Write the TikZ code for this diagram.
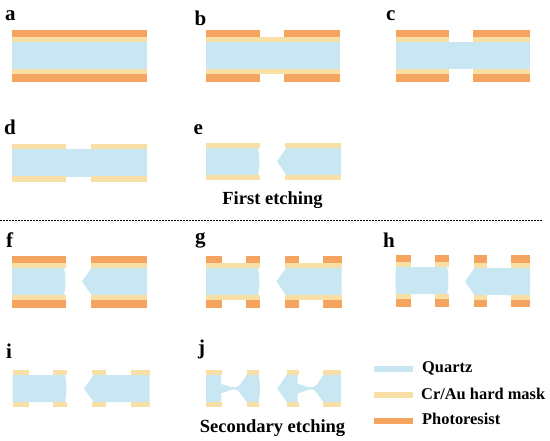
\documentclass[tikz,border=0pt]{standalone}
\usepackage{fontspec}
\setmainfont{Liberation Serif}
\definecolor{quartzc}{HTML}{C9E7F2}
\definecolor{maskc}{HTML}{F8DFA5}
\definecolor{resistc}{HTML}{F5A460}
\tikzset{
  quartz/.style={fill=quartzc},
  hardmask/.style={fill=maskc},
  resist/.style={fill=resistc},
  panel/.style={anchor=base west,inner sep=0pt,font=\bfseries\fontsize{21}{21}\selectfont},
  caption/.style={anchor=base,inner sep=0pt,font=\bfseries\fontsize{18.5}{18}\selectfont},
  legendtext/.style={anchor=base west,inner sep=0pt,font=\bfseries\fontsize{16.4}{18}\selectfont},
}
% #1 left edge, #2 right edge, #3 top of upper mask
\newcommand{\M}[3]{%
  \fill[hardmask] (#1,#3) rectangle (#2,#3+5);
  \fill[hardmask] (#1,#3+32) rectangle (#2,#3+37.3);}
\newcommand{\R}[3]{%
  \fill[resist] (#1,#3-7.5) rectangle (#2,#3);
  \fill[resist] (#1,#3+37) rectangle (#2,#3+44.5);}
% left block with bulged right side: left, right, top of quartz
\newcommand{\QL}[3]{%
  \fill[quartz] (#1,#3) -- (#2-2,#3) .. controls (#2,#3+9) and (#2,#3+18) .. (#2-2,#3+27) -- (#1,#3+27) -- cycle;}
% right block with pointed left side: tip x, right, top of quartz
\newcommand{\QR}[3]{%
  \fill[quartz] (#1,#3+13.5) -- (#1+9.5,#3) -- (#2,#3) -- (#2,#3+27) -- (#1+9.5,#3+27) -- cycle;}
\begin{document}
\begin{tikzpicture}[x=1pt,y=-1pt]
\useasboundingbox (0,0) rectangle (550,440);
% a
\fill[quartz] (12,42) rectangle (147,69);
\M{12}{147}{37}\R{12}{147}{37}
% b
\fill[quartz] (206,42) rectangle (340,69);
\M{206}{340}{37}\R{206}{259.5}{37}\R{283.5}{340}{37}
% c
\fill[quartz] (395.5,42) rectangle (529.5,69);
\M{395.5}{449}{37}\M{473}{529.5}{37}\R{395.5}{449}{37}\R{473}{529.5}{37}
% d
\fill[quartz] (12,149.3) rectangle (147,176.5);
\M{12}{66}{144.3}\M{90.5}{147}{144.3}
% e
\QL{206}{260}{148}\QR{277}{341}{148}
\M{206}{260}{143}\M{285}{341}{143}
% f
\QL{12}{66}{268}\QR{82}{147}{268}
\M{12}{66}{263}\M{90.5}{147}{263}
\R{12}{66}{263}\R{90.5}{147}{263}
% g
\QL{206}{260}{268}\QR{276.5}{341.5}{268}
\M{206}{260}{263}\M{285}{341.5}{263}
\R{206}{222}{263}\R{246}{260}{263}\R{285}{298.5}{263}\R{323}{341.5}{263}
% h
\QL{395.5}{449}{267}\QR{465}{530}{268}
\M{395.5}{411}{262}\M{435}{449}{262}\M{473.5}{487}{262.5}\M{511}{530}{262.5}
\R{395.5}{411}{262}\R{435}{449}{262}\R{473.5}{487}{262.5}\R{511}{530}{262.5}
% i
\QL{12.5}{67}{375}\QR{84}{149.5}{375}
\M{12.5}{28.5}{370}\M{53}{67}{370}\M{92}{106}{370}\M{131}{149.5}{370}
% j
\fill[quartz] (206,375) -- (221,375) -- (221,384) .. controls (226,385) and (230,387.3) .. (235,387.3)
  .. controls (239,387.3) and (241,383) .. (246.7,375) -- (258.5,375)
  .. controls (260.5,384) and (260.5,393) .. (258.5,402) -- (246.7,402)
  .. controls (241,395) and (239,389.3) .. (235,389.3)
  .. controls (230,389.3) and (226,392.3) .. (221,393.3) -- (221,402) -- (206,402) -- cycle;
\fill[quartz] (277.3,388.5) -- (286.7,375) -- (297.7,375) -- (297.7,384)
  .. controls (303,385) and (307,387.3) .. (311.7,387.3)
  .. controls (316,387.3) and (318,383) .. (323.3,375) -- (341,375) -- (341,402) -- (323.3,402)
  .. controls (318,395) and (316,389.3) .. (311.7,389.3)
  .. controls (307,389.3) and (303,392.3) .. (297.7,393.3) -- (297.7,402) -- (286.7,402) -- cycle;
\M{206}{222}{370}\M{247}{259}{370}\M{287}{298.5}{370}\M{323}{341}{370}
% divider
\draw[line width=1.6pt,dash pattern=on 1.5pt off 1.5pt] (0,220.5) -- (543,220.5);
% panel letters
\node[panel] (la) at (5,20) {a};
\node[panel] (lb) at (194.5,25) {b};
\node[panel] (lc) at (386,20) {c};
\node[panel] (ld) at (4,134) {d};
\node[panel] (le) at (193.5,134) {e};
\node[panel] (lf) at (6,247) {f};
\node[panel] (lg) at (195,243.5) {g};
\node[panel] (lh) at (383,247) {h};
\node[panel] (li) at (6,358) {i};
\node[panel] (lj) at (198,354.5) {j};
% captions
\node[caption] (first) at (272.5,204) {First etching};
\node[caption] (second) at (272.5,432) {Secondary etching};
% legend
\fill[quartz] (374,366) rectangle (413,371.5);
\fill[hardmask] (374,392) rectangle (413,398);
\fill[resist] (374,417.5) rectangle (413,423.5);
\node[legendtext] (t1) at (422,372) {Quartz};
\node[legendtext] (t2) at (421,399) {Cr/Au hard mask};
\node[legendtext] (t3) at (422,424) {Photoresist};
\end{tikzpicture}
\end{document}
